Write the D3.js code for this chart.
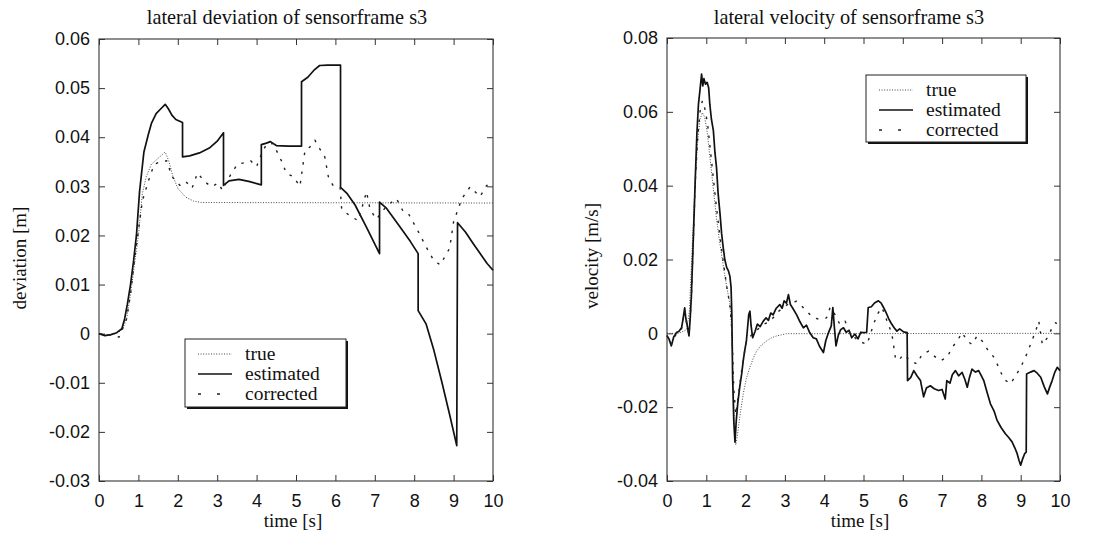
<!DOCTYPE html>
<html>
<head>
<meta charset="utf-8">
<script src="https://cdn.jsdelivr.net/npm/d3@7"></script>
<style>
  body { margin: 0; background: #fff; }
  text { fill: #111; }
</style>
</head>
<body>
<svg id="chart" width="1102" height="534"></svg>
<script>
// ---- data ----
const seriesNames = ["true", "estimated", "corrected"];
const timeTicks = [0, 1, 2, 3, 4, 5, 6, 7, 8, 9, 10];
const devTicks = [-0.03, -0.02, -0.01, 0, 0.01, 0.02, 0.03, 0.04, 0.05, 0.06];
const velTicks = [-0.04, -0.02, 0, 0.02, 0.04, 0.06, 0.08];

// lateral deviation [m], pairs of [time, value]
const devTrue = [[0,0],[0.3,-0.0003],[0.5,0.0003],[0.6,0.001],[0.7,0.003],[0.8,0.008],[0.9,0.014],[1.0,0.02],
  [1.1,0.0285],[1.2,0.032],[1.33,0.0345],[1.5,0.0357],[1.68,0.037],[1.77,0.0352],[1.87,0.0322],[2.0,0.0296],
  [2.2,0.0278],[2.4,0.027],[2.6,0.0267],[10,0.0266]];
const devEst = [[0,0],[0.15,-0.0004],[0.3,-0.0002],[0.45,0.0002],[0.58,0.001],[0.65,0.003],[0.72,0.006],[0.8,0.01],
  [0.88,0.015],[0.95,0.02],[1.03,0.029],[1.14,0.037],[1.25,0.0405],[1.33,0.0428],[1.45,0.0448],[1.57,0.0458],
  [1.68,0.0467],[1.76,0.0458],[1.85,0.0445],[1.95,0.0436],[2.12,0.043],[2.12,0.036],[2.3,0.0362],[2.55,0.0368],
  [2.8,0.0378],[3.0,0.0392],[3.16,0.0409],[3.16,0.0302],[3.3,0.0311],[3.55,0.0314],[3.8,0.031],[4.12,0.0303],
  [4.12,0.0385],[4.25,0.0388],[4.35,0.0391],[4.5,0.0383],[4.8,0.0382],[5.14,0.0382],[5.14,0.0513],[5.3,0.0522],
  [5.45,0.0536],[5.6,0.0546],[5.8,0.0547],[6.13,0.0547],[6.13,0.0298],[6.3,0.0285],[6.5,0.0262],[6.8,0.0215],
  [7.12,0.0163],[7.12,0.0268],[7.3,0.0255],[7.6,0.0222],[7.9,0.0188],[8.1,0.0163],[8.1,0.0047],[8.3,0.002],
  [8.5,-0.0034],[8.7,-0.0098],[8.9,-0.0165],[9.08,-0.0228],[9.1,0.0226],[9.3,0.0207],[9.5,0.0183],[9.7,0.016],
  [9.85,0.0143],[10,0.0129]];
const devCorr = [[0,0],[0.3,-0.0003],[0.51,-0.0007],[0.6,0.001],[0.7,0.003],[0.8,0.008],[0.9,0.015],[1.0,0.021],
  [1.1,0.027],[1.25,0.031],[1.4,0.0345],[1.56,0.035],[1.72,0.0352],[1.85,0.032],[2.05,0.0302],[2.2,0.031],
  [2.36,0.0296],[2.5,0.0327],[2.69,0.0309],[2.86,0.0299],[3.03,0.0307],[3.13,0.0292],[3.3,0.0318],[3.51,0.0345],
  [3.68,0.0348],[3.85,0.0352],[4.0,0.034],[4.08,0.0358],[4.25,0.0386],[4.42,0.0387],[4.63,0.0352],[4.76,0.0326],
  [4.93,0.032],[5.1,0.03],[5.23,0.0374],[5.35,0.038],[5.48,0.0394],[5.6,0.0377],[5.73,0.036],[5.82,0.032],
  [5.95,0.03],[6.12,0.0297],[6.16,0.0253],[6.37,0.024],[6.58,0.023],[6.79,0.0289],[6.88,0.0253],[7.04,0.0233],
  [7.3,0.026],[7.55,0.0275],[7.72,0.0249],[7.85,0.0245],[8.13,0.0204],[8.28,0.018],[8.49,0.015],[8.66,0.014],
  [8.9,0.0174],[9.0,0.0228],[9.21,0.0275],[9.42,0.0299],[9.67,0.0279],[9.84,0.0302],[10,0.03]];

// lateral velocity [m/s], pairs of [time, value]
const velTrue = [[0,0],[0.3,0],[0.5,0.001],[0.57,0.006],[0.62,0.018],[0.67,0.03],[0.72,0.042],[0.78,0.052],
  [0.84,0.058],[0.9,0.0598],[0.96,0.0585],[1.03,0.054],[1.1,0.047],[1.18,0.039],[1.26,0.031],[1.35,0.024],
  [1.45,0.017],[1.53,0.012],[1.6,0.008],[1.64,0.002],[1.68,-0.012],[1.72,-0.026],[1.75,-0.0302],[1.8,-0.027],
  [1.85,-0.0227],[1.94,-0.0164],[2.02,-0.0122],[2.11,-0.0092],[2.2,-0.0066],[2.28,-0.0048],[2.4,-0.0032],
  [2.53,-0.0021],[2.66,-0.0012],[2.79,-0.0007],[3.04,-0.0001],[10,0]];
const velEst = [[0,-0.0007],[0.05,-0.0015],[0.11,-0.0034],[0.17,-0.001],[0.24,0.0002],[0.3,0.0005],[0.37,0.0015],
  [0.41,0.004],[0.45,0.0069],[0.48,0.004],[0.51,0.0024],[0.56,-0.0007],[0.59,0.004],[0.62,0.01],[0.65,0.0195],
  [0.68,0.029],[0.72,0.042],[0.76,0.054],[0.8,0.062],[0.84,0.066],[0.88,0.0702],[0.91,0.067],[0.94,0.069],
  [0.98,0.0675],[1.02,0.068],[1.06,0.0665],[1.09,0.062],[1.13,0.058],[1.18,0.0549],[1.22,0.049],[1.26,0.0449],
  [1.3,0.038],[1.35,0.0323],[1.39,0.027],[1.43,0.0233],[1.47,0.02],[1.52,0.0178],[1.56,0.017],[1.6,0.0155],
  [1.63,0.0125],[1.65,0.005],[1.67,-0.012],[1.7,-0.024],[1.73,-0.0295],[1.76,-0.024],[1.8,-0.019],[1.85,-0.0146],
  [1.9,-0.011],[1.94,-0.0074],[1.98,-0.0045],[2.02,-0.0021],[2.05,0.0015],[2.08,0.0051],[2.11,0.006],
  [2.14,0.002],[2.18,-0.0012],[2.24,0.0005],[2.3,0.0025],[2.37,0.0018],[2.45,0.0033],[2.52,0.0042],
  [2.58,0.0035],[2.64,0.0055],[2.7,0.005],[2.78,0.0068],[2.87,0.0078],[2.93,0.0068],[2.98,0.0088],[3.04,0.0082],
  [3.09,0.0105],[3.14,0.0078],[3.2,0.0068],[3.3,0.005],[3.38,0.0032],[3.47,0.0015],[3.55,0.0022],[3.63,0.0002],
  [3.72,-0.0012],[3.8,-0.0015],[3.88,-0.0035],[3.98,-0.0052],[4.04,-0.002],[4.11,0.0002],[4.18,0.002],
  [4.22,0.007],[4.26,0.0015],[4.3,-0.0034],[4.36,-0.0005],[4.42,0.001],[4.49,0.0015],[4.56,0.0003],[4.63,0.0008],
  [4.7,-0.0012],[4.78,-0.0002],[4.86,-0.0015],[4.93,0.0003],[5.0,0.0002],[5.08,0.0003],[5.12,0.007],[5.2,0.0072],
  [5.28,0.0082],[5.38,0.0088],[5.45,0.0082],[5.51,0.007],[5.58,0.0055],[5.64,0.004],[5.7,0.0028],[5.78,0.0015],
  [5.85,0.0006],[5.92,0.0012],[6.02,0.0004],[6.11,0.0002],[6.12,-0.0128],[6.2,-0.012],[6.28,-0.0101],
  [6.36,-0.0115],[6.45,-0.0128],[6.53,-0.0172],[6.6,-0.0148],[6.7,-0.0142],[6.8,-0.015],[6.91,-0.0155],
  [7.0,-0.0152],[7.08,-0.0178],[7.12,-0.0128],[7.2,-0.0135],[7.26,-0.0112],[7.34,-0.0101],[7.42,-0.0115],
  [7.51,-0.0106],[7.58,-0.0125],[7.64,-0.0146],[7.7,-0.0118],[7.76,-0.0097],[7.85,-0.0105],[7.93,-0.0101],
  [8.0,-0.0115],[8.06,-0.0128],[8.14,-0.0158],[8.23,-0.0191],[8.32,-0.021],[8.4,-0.0236],[8.5,-0.0255],
  [8.61,-0.0272],[8.7,-0.0283],[8.78,-0.0294],[8.85,-0.031],[8.91,-0.0326],[8.96,-0.0345],[9.0,-0.0357],
  [9.05,-0.034],[9.1,-0.0326],[9.14,-0.0322],[9.15,-0.011],[9.25,-0.0105],[9.34,-0.0101],[9.42,-0.0108],
  [9.51,-0.0119],[9.6,-0.0145],[9.68,-0.0164],[9.74,-0.0145],[9.8,-0.0128],[9.87,-0.0105],[9.93,-0.0092],
  [10,-0.0101]];
const velCorr = [[0,-0.0005],[0.11,-0.003],[0.24,0],[0.37,0.0012],[0.45,0.006],[0.51,0.002],[0.56,-0.0005],
  [0.62,0.009],[0.67,0.025],[0.72,0.041],[0.78,0.053],[0.84,0.06],[0.9,0.063],[0.96,0.061],[1.03,0.057],
  [1.1,0.05],[1.18,0.042],[1.26,0.034],[1.35,0.026],[1.45,0.018],[1.53,0.012],[1.6,0.0078],[1.65,0.001],
  [1.7,-0.015],[1.75,-0.022],[1.8,-0.018],[1.9,-0.01],[2.02,-0.002],[2.19,0],[2.3,0.001],[2.45,0.0024],
  [2.58,0.003],[2.7,0.0042],[2.82,0.0058],[2.96,0.007],[3.12,0.0082],[3.3,0.0087],[3.42,0.0075],[3.55,0.006],
  [3.72,0.0042],[3.89,0.0038],[4.06,0.0042],[4.15,0.007],[4.23,0.006],[4.4,0.0024],[4.53,0.0033],[4.66,0.0002],
  [4.87,-0.0021],[5.09,-0.003],[5.2,0.0006],[5.34,0.005],[5.47,0.007],[5.6,0.0033],[5.72,0],[5.81,-0.0065],
  [5.89,-0.0074],[6.02,-0.0057],[6.19,-0.0074],[6.36,-0.0083],[6.49,-0.0057],[6.66,-0.0048],[6.79,-0.0061],
  [6.96,-0.0074],[7.13,-0.0065],[7.25,-0.0039],[7.38,-0.0021],[7.51,0.0002],[7.64,-0.0021],[7.76,-0.003],
  [7.89,-0.0007],[8.02,-0.0021],[8.15,-0.0043],[8.32,-0.0065],[8.44,-0.0092],[8.57,-0.0124],[8.74,-0.0137],
  [8.87,-0.0115],[9.0,-0.0092],[9.12,-0.0065],[9.25,-0.003],[9.38,0.0006],[9.46,0.0033],[9.55,-0.003],
  [9.68,-0.0012],[9.8,0.0015],[9.89,0.0029],[10,0.0015]];

// line looks per series: dotted, solid, sparse dashes
const lineStyle = {
  "true":      { color: "#444", width: 1,   dash: "1,1.6" },
  "estimated": { color: "#111", width: 1.7, dash: null },
  "corrected": { color: "#222", width: 1.4, dash: "2.5,7" }
};

const sans = "'Liberation Sans', Arial, sans-serif";
const serif = "'Liberation Serif', 'Times New Roman', serif";

const svg = d3.select("#chart");

function drawPanel(p) {
  const x = d3.scaleLinear().domain([0, 10]).range([p.left, p.right]);
  const y = d3.scaleLinear().domain([p.yTicks[0], p.yTicks[p.yTicks.length - 1]]).range([p.bottom, p.top]);
  const g = svg.append("g");

  // frame
  g.append("rect")
    .attr("x", p.left).attr("y", p.top)
    .attr("width", p.right - p.left).attr("height", p.bottom - p.top)
    .attr("fill", "none").attr("stroke", "#333").attr("stroke-width", 1.1);

  // axes, ticks pointing inward on all four sides
  const bottom = g.append("g").attr("transform", `translate(0,${p.bottom})`)
    .call(d3.axisBottom(x).tickValues(timeTicks).tickSizeInner(-6).tickSizeOuter(0)
      .tickPadding(13).tickFormat(d => String(d)));
  const left = g.append("g").attr("transform", `translate(${p.left},0)`)
    .call(d3.axisLeft(y).tickValues(p.yTicks).tickSizeInner(-6).tickSizeOuter(0)
      .tickPadding(9).tickFormat(d => String(d)));
  g.append("g").attr("transform", `translate(0,${p.top})`)
    .call(d3.axisTop(x).tickValues(timeTicks).tickSizeInner(-6).tickSizeOuter(0).tickFormat(""));
  g.append("g").attr("transform", `translate(${p.right},0)`)
    .call(d3.axisRight(y).tickValues(p.yTicks).tickSizeInner(-6).tickSizeOuter(0).tickFormat(""));

  g.selectAll(".domain").remove();
  g.selectAll(".tick line").attr("stroke", "#333");
  [bottom, left].forEach(a => a.selectAll("text")
    .style("font-family", sans).style("font-size", "18px").attr("fill", "#111"));

  // series
  const line = d3.line().x(d => x(d[0])).y(d => y(d[1]));
  p.series.forEach((s, i) => {
    const st = lineStyle[seriesNames[i]];
    g.append("path").datum(s)
      .attr("d", line)
      .attr("fill", "none")
      .attr("stroke", st.color)
      .attr("stroke-width", st.width)
      .attr("stroke-dasharray", st.dash)
      .attr("stroke-linejoin", "round");
  });

  // titles
  g.append("text").attr("x", p.titleX).attr("y", 24).attr("text-anchor", "middle")
    .style("font-family", serif).style("font-size", "20.3px").text(p.title);
  g.append("text").attr("x", p.xLabelX).attr("y", 527).attr("text-anchor", "middle")
    .style("font-family", serif).style("font-size", "19px").text("time [s]");
  g.append("text")
    .attr("transform", `translate(${p.yLabelX},${p.yLabelY}) rotate(-90)`)
    .attr("text-anchor", "middle")
    .style("font-family", serif).style("font-size", "19px").text(p.yLabel);

  // legend box with a slight shadow
  const L = p.legend;
  g.append("rect").attr("x", L.x + 2).attr("y", L.y + 2).attr("width", L.w).attr("height", L.h).attr("fill", "#111");
  g.append("rect").attr("x", L.x).attr("y", L.y).attr("width", L.w).attr("height", L.h)
    .attr("fill", "#fff").attr("stroke", "#222").attr("stroke-width", 1);
  seriesNames.forEach((name, i) => {
    const st = lineStyle[name];
    const by = L.y + 21 + i * 20;
    g.append("line")
      .attr("x1", L.x + 13).attr("x2", L.x + 47)
      .attr("y1", by - 6).attr("y2", by - 6)
      .attr("stroke", st.color).attr("stroke-width", st.width)
      .attr("stroke-dasharray", name === "corrected" ? "3,16" : st.dash);
    g.append("text").attr("x", L.x + 60).attr("y", by)
      .style("font-family", serif).style("font-size", "19.5px").text(name);
  });
}

drawPanel({
  left: 99, right: 493, top: 39, bottom: 481,
  yTicks: devTicks,
  series: [devTrue, devEst, devCorr],
  title: "lateral deviation of sensorframe s3", titleX: 287,
  xLabelX: 293, yLabel: "deviation [m]", yLabelX: 26, yLabelY: 258,
  legend: { x: 185, y: 339, w: 161, h: 68 }
});

drawPanel({
  left: 667, right: 1060, top: 38, bottom: 481,
  yTicks: velTicks,
  series: [velTrue, velEst, velCorr],
  title: "lateral velocity of sensorframe s3", titleX: 849,
  xLabelX: 860, yLabel: "velocity [m/s]", yLabelX: 598, yLabelY: 256,
  legend: { x: 866, y: 75, w: 160, h: 67 }
});
</script>
</body>
</html>
